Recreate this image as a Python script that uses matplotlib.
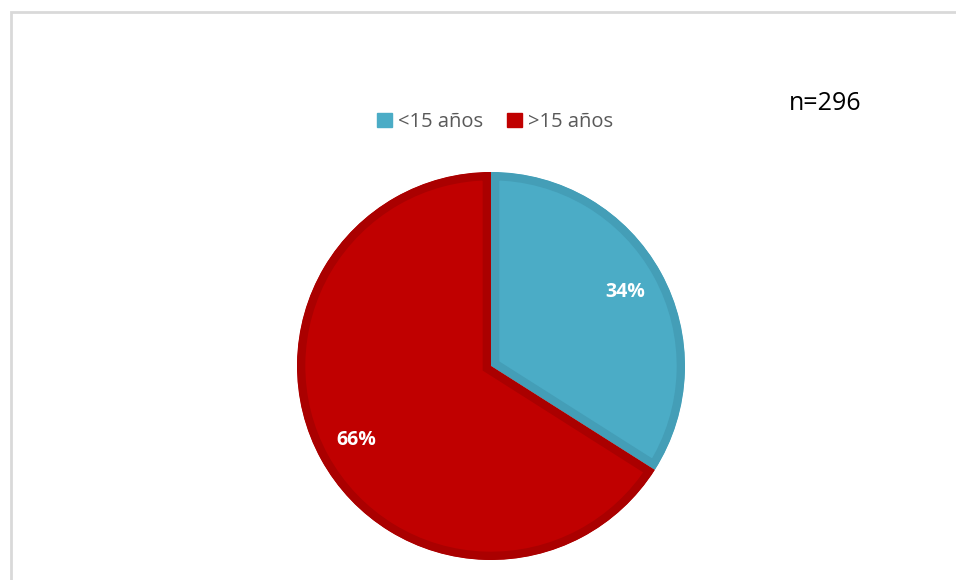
import matplotlib.pyplot as plt
from matplotlib.patches import Rectangle, Patch

# Data
labels = ['<15 años', '>15 años']
values = [34, 66]
colors = ['#4BACC6', '#C00000']
edge_colors = ['#449EB7', '#AA0000']
n_text = 'n=296'

fig = plt.figure(figsize=(9.56, 5.8), dpi=100)

# outer chart frame (light gray, left and top visible)
frame = Rectangle((11 / 956, -0.1), 1.2, (580 - 12) / 580 + 0.1,
                  transform=fig.transFigure, fill=False,
                  edgecolor='#D9D9D9', linewidth=2)
fig.patches.append(frame)

ax = fig.add_axes([297 / 956, 20 / 580, 388 / 956, 388 / 580])
wedges, texts, autotexts = ax.pie(values, colors=colors, startangle=90,
                                  counterclock=False, radius=1,
                                  autopct='%1.0f%%', pctdistance=0.79,
                                  textprops={'color': 'white', 'fontsize': 14,
                                             'fontweight': 'bold',
                                             'family': 'Open Sans'})

# darker inner border on each slice (edge clipped to the slice itself)
for w, ec in zip(wedges, edge_colors):
    w.set_edgecolor(ec)
    w.set_linewidth(12)
    w.set_clip_path(w)
    w.set_clip_on(True)

ax.set_xlim(-1, 1)
ax.set_ylim(-1, 1)
ax.set_aspect('equal')
ax.axis('off')

handles = [Patch(facecolor=c, edgecolor=c) for c in colors]
leg = fig.legend(handles, labels, loc='center', ncol=2,
                 bbox_to_anchor=(495 / 956, 1 - 122 / 580),
                 frameon=False, handlelength=0.75,
                 handleheight=0.75, handletextpad=0.3, columnspacing=1.2,
                 prop={'family': 'Open Sans', 'size': 14.5})
for t in leg.get_texts():
    t.set_color('#595959')

fig.text(825 / 956, 1 - 104 / 580, n_text, ha='center', va='center',
         fontsize=18, color='black', family='Open Sans')

fig.savefig('out.png', dpi=100, facecolor='white')
